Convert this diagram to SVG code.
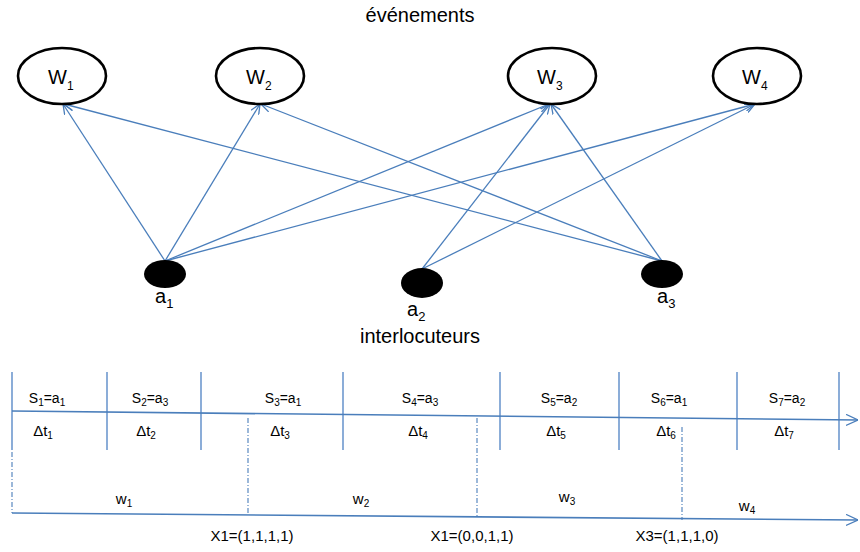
<svg xmlns="http://www.w3.org/2000/svg" width="860" height="552" viewBox="0 0 860 552">
<defs>
<marker id="arr" viewBox="0 0 10 10" refX="10" refY="5" markerWidth="10" markerHeight="10" markerUnits="userSpaceOnUse" orient="auto">
<path d="M0,0.5 L10,5 L0,9.5" fill="none" stroke="#4a7ebb" stroke-width="1.3"/>
</marker>
<marker id="arr2" viewBox="0 0 12 12" refX="12" refY="6" markerWidth="12" markerHeight="12" markerUnits="userSpaceOnUse" orient="auto">
<path d="M0,0.5 L12,6 L0,11.5" fill="none" stroke="#4a7ebb" stroke-width="1.3"/>
</marker>
<style>
text{font-family:"Liberation Sans",Arial,sans-serif;fill:#000}
.w{fill:#fff;stroke:#000;stroke-width:2.6}
.a{fill:#000}
.e{stroke:#4a7ebb;stroke-width:1.3;fill:none;marker-end:url(#arr)}
.v{stroke:#5b8ac8;stroke-width:1.4;fill:none}
.dd{stroke:#4a7ebb;stroke-width:1.1;fill:none;stroke-dasharray:5,2,1,2}
.ax{stroke:#4a7ebb;stroke-width:1.6;fill:none;marker-end:url(#arr2)}
.big{font-size:20px}
.wl{font-size:20px}
.s{font-size:14px}
.d{font-size:15px}
.x{font-size:15px}
</style>
</defs>
<text class="big" x="420" y="22" text-anchor="middle">événements</text>
<g id="connectors">
<line class="e" x1="165" y1="261" x2="63" y2="104"/>
<line class="e" x1="165" y1="261" x2="260" y2="104"/>
<line class="e" x1="165" y1="261" x2="549" y2="104"/>
<line class="e" x1="165" y1="261" x2="755" y2="104"/>
<line class="e" x1="422" y1="269" x2="550" y2="104"/>
<line class="e" x1="422" y1="269" x2="755" y2="104"/>
<line class="e" x1="662" y1="261" x2="64" y2="104"/>
<line class="e" x1="662" y1="261" x2="261" y2="104"/>
<line class="e" x1="662" y1="261" x2="551" y2="104"/>
</g>
<g id="W1"><ellipse class="w" cx="62" cy="76" rx="44" ry="28"/><text class="wl" x="48" y="84">W<tspan font-size="12" dy="6">1</tspan></text></g>
<g id="W2"><ellipse class="w" cx="260" cy="76" rx="44" ry="28"/><text class="wl" x="246" y="84">W<tspan font-size="12" dy="6">2</tspan></text></g>
<g id="W3"><ellipse class="w" cx="552" cy="76" rx="44" ry="28"/><text class="wl" x="537" y="84">W<tspan font-size="12" dy="6">3</tspan></text></g>
<g id="W4"><ellipse class="w" cx="757" cy="76" rx="44" ry="28"/><text class="wl" x="742" y="84">W<tspan font-size="12" dy="6">4</tspan></text></g>
<g id="a1"><ellipse class="a" cx="165" cy="274" rx="21" ry="14"/><text class="big" x="155" y="303">a<tspan font-size="13" dy="5">1</tspan></text></g>
<g id="a2"><ellipse class="a" cx="422" cy="283" rx="21" ry="15"/><text class="big" x="407" y="316">a<tspan font-size="13" dy="5">2</tspan></text></g>
<g id="a3"><ellipse class="a" cx="662" cy="274" rx="21" ry="14"/><text class="big" x="657" y="303">a<tspan font-size="13" dy="5">3</tspan></text></g>
<text class="big" x="420" y="343" text-anchor="middle">interlocuteurs</text>
<g id="timeline">
<line class="v" x1="12" y1="372" x2="12" y2="450"/>
<line class="v" x1="107" y1="372" x2="107" y2="450"/>
<line class="v" x1="201" y1="372" x2="201" y2="450"/>
<line class="v" x1="343" y1="372" x2="343" y2="450"/>
<line class="v" x1="500" y1="372" x2="500" y2="450"/>
<line class="v" x1="619" y1="372" x2="619" y2="450"/>
<line class="v" x1="737" y1="372" x2="737" y2="450"/>
<line class="v" x1="839" y1="372" x2="839" y2="450"/>
<line class="ax" x1="12" y1="411" x2="858" y2="420"/>
<line class="dd" x1="12" y1="452" x2="12" y2="513"/>
<line class="dd" x1="248" y1="418" x2="248" y2="515"/>
<line class="dd" x1="477" y1="418" x2="477" y2="517"/>
<line class="dd" x1="682" y1="427" x2="682" y2="520"/>
<line class="ax" x1="12" y1="513" x2="858" y2="520"/>
</g>
<g id="labels" text-anchor="middle">
<text class="s" x="47" y="403">S<tspan font-size="10" dy="3">1</tspan><tspan dy="-3">=a</tspan><tspan font-size="10" dy="3">1</tspan></text>
<text class="s" x="150" y="403">S<tspan font-size="10" dy="3">2</tspan><tspan dy="-3">=a</tspan><tspan font-size="10" dy="3">3</tspan></text>
<text class="s" x="283" y="403">S<tspan font-size="10" dy="3">3</tspan><tspan dy="-3">=a</tspan><tspan font-size="10" dy="3">1</tspan></text>
<text class="s" x="420" y="403">S<tspan font-size="10" dy="3">4</tspan><tspan dy="-3">=a</tspan><tspan font-size="10" dy="3">3</tspan></text>
<text class="s" x="559" y="403">S<tspan font-size="10" dy="3">5</tspan><tspan dy="-3">=a</tspan><tspan font-size="10" dy="3">2</tspan></text>
<text class="s" x="669" y="403">S<tspan font-size="10" dy="3">6</tspan><tspan dy="-3">=a</tspan><tspan font-size="10" dy="3">1</tspan></text>
<text class="s" x="787" y="403">S<tspan font-size="10" dy="3">7</tspan><tspan dy="-3">=a</tspan><tspan font-size="10" dy="3">2</tspan></text>
<text class="d" x="43" y="436">Δt<tspan font-size="10" dy="3">1</tspan></text>
<text class="d" x="146" y="436">Δt<tspan font-size="10" dy="3">2</tspan></text>
<text class="d" x="280" y="436">Δt<tspan font-size="10" dy="3">3</tspan></text>
<text class="d" x="418" y="436">Δt<tspan font-size="10" dy="3">4</tspan></text>
<text class="d" x="556" y="436">Δt<tspan font-size="10" dy="3">5</tspan></text>
<text class="d" x="666" y="436">Δt<tspan font-size="10" dy="3">6</tspan></text>
<text class="d" x="784" y="436">Δt<tspan font-size="10" dy="3">7</tspan></text>
<text class="d" x="124" y="504">w<tspan font-size="10" dy="3">1</tspan></text>
<text class="d" x="361" y="504">w<tspan font-size="10" dy="3">2</tspan></text>
<text class="d" x="567" y="502">w<tspan font-size="10" dy="3">3</tspan></text>
<text class="d" x="747" y="511">w<tspan font-size="10" dy="3">4</tspan></text>
<text class="x" x="252" y="541">X1=(1,1,1,1)</text>
<text class="x" x="472" y="541">X1=(0,0,1,1)</text>
<text class="x" x="677" y="541">X3=(1,1,1,0)</text>
</g>
</svg>
